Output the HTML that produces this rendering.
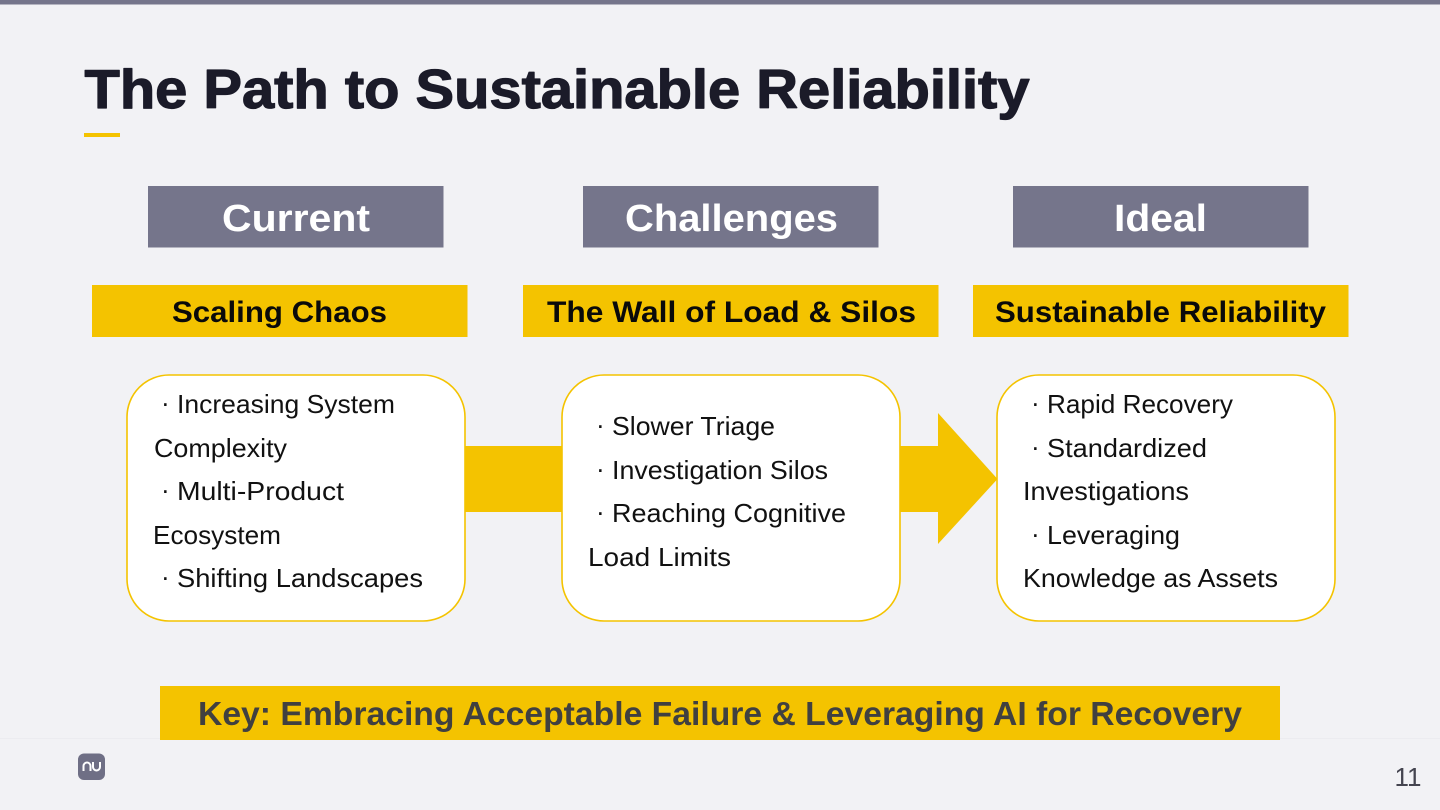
<!DOCTYPE html>
<html><head><meta charset="utf-8"><style>
html,body{margin:0;padding:0;background:#f2f2f5;width:1440px;height:810px;overflow:hidden}
svg{display:block}
text{font-family:"Liberation Sans",sans-serif}
.b{font-size:26px;fill:#111}
.h{font-size:38px;font-weight:bold;fill:#fff}
.s{font-size:30px;font-weight:bold;fill:#0a0a0a}
.d{font-size:26px;fill:#111;transform:translateY(-1.5px)}
</style></head><body>
<svg width="1440" height="810" viewBox="0 0 1440 810" xmlns="http://www.w3.org/2000/svg">
<rect width="1440" height="810" fill="#f2f2f5"/>
<rect width="1440" height="4.5" fill="#75758b"/>
<text x="84.500" y="108" font-size="55" font-weight="bold" fill="#1b1b29" stroke="#1b1b29" stroke-width="1.200" stroke-linejoin="round" textLength="945" lengthAdjust="spacingAndGlyphs">The Path to Sustainable Reliability</text>
<rect x="84" y="133" width="36" height="4" fill="#f4c300"/>

<rect x="148" y="186" width="295.500" height="61.500" fill="#75758b"/>
<rect x="583" y="186" width="295.500" height="61.500" fill="#75758b"/>
<rect x="1013" y="186" width="295.500" height="61.500" fill="#75758b"/>
<text class="h" x="222" y="231" textLength="148" lengthAdjust="spacingAndGlyphs">Current</text>
<text class="h" x="625" y="231" textLength="213" lengthAdjust="spacingAndGlyphs">Challenges</text>
<text class="h" x="1114" y="231" textLength="93" lengthAdjust="spacingAndGlyphs">Ideal</text>

<rect x="92" y="285" width="375.500" height="52" fill="#f4c300"/>
<rect x="523" y="285" width="415.500" height="52" fill="#f4c300"/>
<rect x="973" y="285" width="375.500" height="52" fill="#f4c300"/>
<text class="s" x="172" y="322" textLength="215" lengthAdjust="spacingAndGlyphs">Scaling Chaos</text>
<text class="s" x="547" y="322" textLength="369" lengthAdjust="spacingAndGlyphs">The Wall of Load &amp; Silos</text>
<text class="s" x="995" y="322" textLength="331" lengthAdjust="spacingAndGlyphs">Sustainable Reliability</text>

<polygon points="465,446 938,446 938,413 997.500,479 938,544 938,512 465,512" fill="#f4c300"/>

<rect x="127" y="375" width="338" height="246" rx="42" fill="#fff" stroke="#f4c300" stroke-width="1.600"/>
<rect x="562" y="375" width="338" height="246" rx="42" fill="#fff" stroke="#f4c300" stroke-width="1.600"/>
<rect x="997" y="375" width="338" height="246" rx="42" fill="#fff" stroke="#f4c300" stroke-width="1.600"/>

<text class="d" x="161" y="413">·</text>
<text class="b" x="177" y="413" textLength="218" lengthAdjust="spacingAndGlyphs">Increasing System</text>
<text class="b" x="154" y="457" textLength="133" lengthAdjust="spacingAndGlyphs">Complexity</text>
<text class="d" x="161" y="500">·</text>
<text class="b" x="177" y="500" textLength="167" lengthAdjust="spacingAndGlyphs">Multi-Product</text>
<text class="b" x="153" y="544" textLength="128" lengthAdjust="spacingAndGlyphs">Ecosystem</text>
<text class="d" x="161" y="587">·</text>
<text class="b" x="177" y="587" textLength="246" lengthAdjust="spacingAndGlyphs">Shifting Landscapes</text>

<text class="d" x="596" y="435">·</text>
<text class="b" x="612" y="435" textLength="163" lengthAdjust="spacingAndGlyphs">Slower Triage</text>
<text class="d" x="596" y="479">·</text>
<text class="b" x="612" y="479" textLength="216" lengthAdjust="spacingAndGlyphs">Investigation Silos</text>
<text class="d" x="596" y="522">·</text>
<text class="b" x="612" y="522" textLength="234" lengthAdjust="spacingAndGlyphs">Reaching Cognitive</text>
<text class="b" x="588" y="566" textLength="143" lengthAdjust="spacingAndGlyphs">Load Limits</text>

<text class="d" x="1031" y="413">·</text>
<text class="b" x="1047" y="413" textLength="186" lengthAdjust="spacingAndGlyphs">Rapid Recovery</text>
<text class="d" x="1031" y="457">·</text>
<text class="b" x="1047" y="457" textLength="160" lengthAdjust="spacingAndGlyphs">Standardized</text>
<text class="b" x="1023" y="500" textLength="166" lengthAdjust="spacingAndGlyphs">Investigations</text>
<text class="d" x="1031" y="544">·</text>
<text class="b" x="1047" y="544" textLength="133" lengthAdjust="spacingAndGlyphs">Leveraging</text>
<text class="b" x="1023" y="587" textLength="255" lengthAdjust="spacingAndGlyphs">Knowledge as Assets</text>

<rect x="0" y="738" width="1440" height="1" fill="#ececf0"/>
<rect x="160" y="686" width="1120" height="54" fill="#f4c300"/>
<text x="198" y="725" font-size="33" font-weight="bold" fill="#404040" textLength="1044" lengthAdjust="spacingAndGlyphs">Key: Embracing Acceptable Failure &amp; Leveraging AI for Recovery</text>

<rect x="78" y="753.500" width="27" height="26.500" rx="6" fill="#6f6f85"/>
<path d="M83.500 771v-5a3.500 3.500 0 0 1 7 0v5M93 762v5a3.500 3.500 0 0 0 7 0v-5" fill="none" stroke="#fff" stroke-width="2"/>
<text x="1394.500 1407" y="786" font-size="26" fill="#44444f">11</text>
</svg>
</body></html>
